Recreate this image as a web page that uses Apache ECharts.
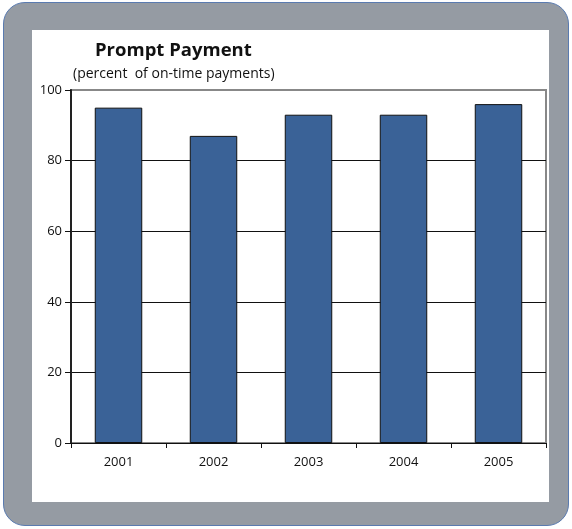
<!DOCTYPE html>
<html>
<head>
<meta charset="utf-8">
<script src="https://cdn.jsdelivr.net/npm/echarts@6/dist/echarts.min.js"></script>
<style>
  html, body { margin: 0; padding: 0; background: #fff; }
  #frame { position: absolute; left: 3px; top: 2px; width: 566px; height: 524px;
           background: #959ba3; border: 1px solid #5a7bb0; border-radius: 22px; box-sizing: border-box; }
  #panel { position: absolute; left: 32px; top: 30px; width: 517px; height: 472px; background: #fff; }
  #main { position: absolute; left: 0; top: 0; width: 572px; height: 529px; }
</style>
</head>
<body>
<div id="frame"></div>
<div id="panel"></div>
<div id="main"></div>
<script>
// prompt payment data
const years = ['2001', '2002', '2003', '2004', '2005'];
const onTime = [95, 87, 93, 93, 96];

const font = '"Open Sans", "DejaVu Sans", sans-serif';

var myChart = echarts.init(document.getElementById('main'));
myChart.setOption({
  backgroundColor: 'transparent',
  animation: false,
  title: [{
    text: 'Prompt Payment',
    left: 90, top: 36,
    textStyle: { fontFamily: font, fontSize: 18.5, fontWeight: 'bold', color: '#111' }
  }, {
    text: '(percent  of on-time payments)',
    left: 68, top: 62,
    textStyle: { fontFamily: font, fontSize: 14, fontWeight: 'normal', color: '#111' }
  }],
  grid: {
    left: 71, top: 90, width: 475, height: 353,
    show: true, borderColor: '#888', borderWidth: 2
  },
  xAxis: {
    type: 'category',
    data: years,
    axisLine: { lineStyle: { color: '#111', width: 1 } },
    axisTick: { show: true, length: 5, lineStyle: { color: '#111' } },
    axisLabel: { fontFamily: font, fontSize: 13, color: '#111', margin: 13 }
  },
  yAxis: {
    type: 'value',
    min: 0, max: 100, interval: 20,
    axisLine: { show: true, lineStyle: { color: '#222', width: 2 } },
    axisTick: { show: true, length: 6, lineStyle: { color: '#111' } },
    axisLabel: { fontFamily: font, fontSize: 13, color: '#111', margin: 9 },
    splitLine: { show: true, lineStyle: { color: ['#111', '#111', '#111', '#111', '#111', '#888'], width: 1 } }
  },
  series: [{
    type: 'bar',
    data: onTime,
    barWidth: '50%',
    itemStyle: { color: '#3a6297', borderColor: '#111', borderWidth: 1 }
  }]
});
</script>
</body>
</html>
